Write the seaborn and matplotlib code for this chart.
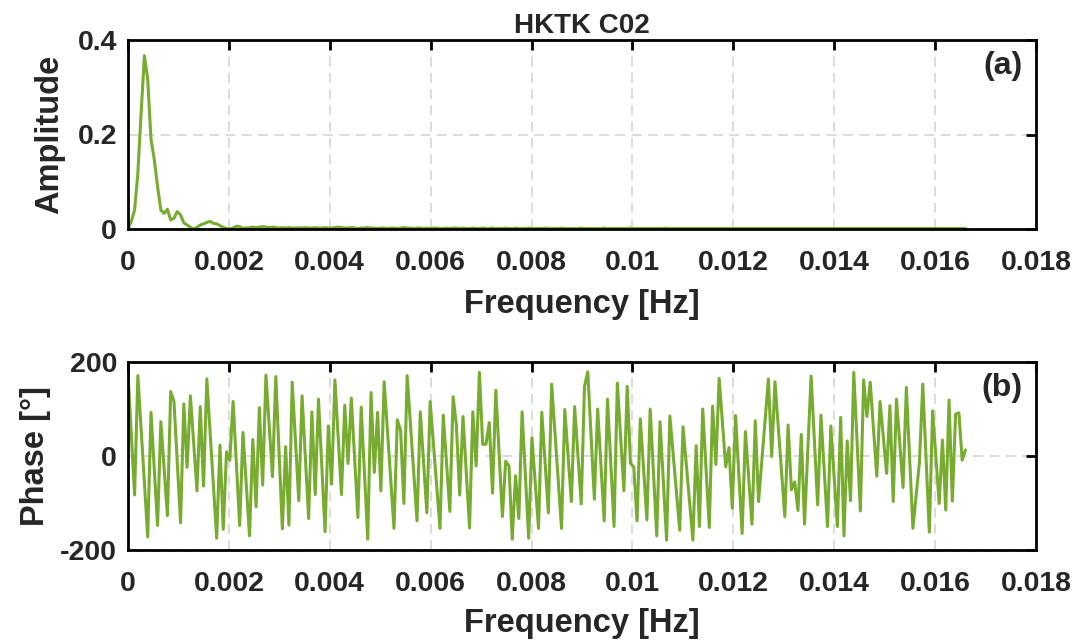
import numpy as np
import pandas as pd
import matplotlib
matplotlib.use("Agg")
import matplotlib.pyplot as plt
import seaborn as sns

# ---------------- data ----------------
SAMPLE_INTERVAL_S = 30.0
N_FFT = 512

amplitude = [
    0.000, 0.016, 0.040, 0.118, 0.246, 0.367, 0.317, 0.190, 0.147, 0.090,
    0.040, 0.033, 0.042, 0.019, 0.023, 0.037, 0.030, 0.013, 0.0085, 0.0035,
    0.000, 0.0035, 0.0085, 0.011, 0.014, 0.016, 0.012, 0.011, 0.007, 0.0035,
    0.001, 0.0005, 0.002, 0.006, 0.005, 0.0015, 0.002, 0.003, 0.004, 0.003,
    0.004, 0.005, 0.004, 0.003, 0.004, 0.003, 0.002, 0.003, 0.002, 0.003,
    0.002, 0.002, 0.003, 0.002, 0.003, 0.002, 0.002, 0.003, 0.002, 0.002,
    0.003, 0.002, 0.002, 0.003, 0.004, 0.003, 0.002, 0.002, 0.003, 0.002,
    0.001, 0.002, 0.002, 0.003, 0.002, 0.002, 0.001, 0.002, 0.002, 0.001,
    0.002, 0.002, 0.001, 0.002, 0.003, 0.002, 0.002, 0.001, 0.002, 0.002,
    0.001, 0.002, 0.001, 0.002, 0.002, 0.001, 0.001, 0.002, 0.001, 0.002,
    0.002, 0.001, 0.002, 0.001, 0.001, 0.002, 0.001, 0.001, 0.002, 0.001,
    0.001, 0.002, 0.001, 0.001, 0.001, 0.002, 0.001, 0.001, 0.002, 0.001,
    0.001, 0.001, 0.002, 0.001, 0.001, 0.001, 0.001, 0.002, 0.001, 0.001,
    0.001, 0.001, 0.002, 0.001, 0.001, 0.001, 0.001, 0.001, 0.002, 0.001,
    0.001, 0.001, 0.001, 0.001, 0.001, 0.002, 0.001, 0.001, 0.001, 0.001,
    0.001, 0.001, 0.001, 0.002, 0.001, 0.001, 0.001, 0.001, 0.001, 0.001,
    0.001, 0.001, 0.001, 0.001, 0.002, 0.001, 0.001, 0.001, 0.001, 0.001,
    0.001, 0.001, 0.001, 0.001, 0.001, 0.001, 0.001, 0.001, 0.001, 0.001,
    0.001, 0.001, 0.001, 0.001, 0.001, 0.001, 0.001, 0.001, 0.001, 0.001,
    0.001, 0.001, 0.001, 0.001, 0.001, 0.001, 0.001, 0.001, 0.001, 0.001,
    0.001, 0.001, 0.001, 0.001, 0.001, 0.001, 0.001, 0.001, 0.001, 0.001,
    0.001, 0.001, 0.001, 0.001, 0.001, 0.001, 0.001, 0.001, 0.001, 0.001,
    0.001, 0.001, 0.001, 0.001, 0.001, 0.001, 0.001, 0.001, 0.001, 0.001,
    0.001, 0.001, 0.001, 0.001, 0.001, 0.001, 0.001, 0.001, 0.001, 0.001,
    0.001, 0.001, 0.001, 0.001, 0.001, 0.001, 0.001, 0.001, 0.001, 0.001,
    0.001, 0.001, 0.001, 0.001, 0.001, 0.001,
]

phase_deg = [
    177, 47, -83, 171, 57, -57, -172, 93, -27, -148,
    73, -27, -127, 137, 116, -13, -142, 111, -24, 128,
    27, -74, 105, -64, 164, 51, -62, -175, 23, -156,
    9, -9, 116, -16, -148, 50, -60, -170, 35, -108,
    103, -62, 172, 64, -44, 169, 7, -155, 20, -147,
    157, 31, -95, 128, -2, -133, 94, -82, 121, -20,
    -161, 64, -60, 162, 40, -82, 108, -16, 123, -4,
    -131, 104, -36, -177, 135, -35, 93, -74, 158, 54,
    -50, -154, 77, 55, -101, 171, 68, -35, -138, 94,
    -14, -121, 116, 26, -64, -154, 87, -16, -118, 126,
    65, -83, 84, -35, -153, 94, -21, 178, 25, 25,
    71, -79, 140, 5, -129, -11, -21, -177, -42, -133,
    94, -40, -175, 39, -58, -154, 93, -14, -121, 153,
    51, -51, -154, 99, 1, -97, 105, 2, -102, 148,
    179, 44, -92, 100, -19, -138, 121, -15, -150, 155,
    40, -74, 148, -16, -23, -138, 79, -28, -136, 100,
    -35, -170, 73, -53, -179, 85, 4, -76, -158, 62,
    -17, -98, -179, 22, -150, 100, -26, -152, 106, -18,
    165, 71, -23, 18, -111, 86, -40, -165, 52, -47,
    -145, 75, -97, -10, 77, 164, -1, 158, 63, -33,
    -129, 66, -72, -55, -116, 46, -145, 12, 170, 33,
    -104, 87, -30, -150, 64, -43, -150, 82, -170, 32,
    -95, 178, 30, -117, 162, 84, 157, 57, -43, 116,
    40, -37, 107, -97, 121, 27, -67, 146, -4, -154,
    -83, -12, 153, -5, -162, 96, -2, -101, 34, -115,
    119, -96, 89, 92, -9, 13,
]

x_ticks = [0, 0.002, 0.004, 0.006, 0.008, 0.010, 0.012, 0.014, 0.016, 0.018]
x_tick_labels = ["0", "0.002", "0.004", "0.006", "0.008", "0.01", "0.012",
                 "0.014", "0.016", "0.018"]
amp_ticks = [0, 0.2, 0.4]
amp_tick_labels = ["0", "0.2", "0.4"]
phase_ticks = [-200, 0, 200]
phase_tick_labels = ["-200", "0", "200"]

title_text = "HKTK C02"
x_label = "Frequency [Hz]"
amp_label = "Amplitude"
phase_label = "Phase [°]"

n = len(phase_deg)
freq = np.arange(n) / (N_FFT * SAMPLE_INTERVAL_S)
df = pd.DataFrame({"freq": freq, "amp": amplitude[:n], "phase": phase_deg})

# ---------------- style ----------------
sns.set_style("white")
plt.rcParams["font.family"] = ["Liberation Sans", "DejaVu Sans"]
plt.rcParams["font.weight"] = "bold"

GREEN = "#77AC30"
TICK_FS = 20.5
LABEL_FS = 23.5

fig = plt.figure(figsize=(10.89, 6.43), dpi=100)
W, H = 1089, 643
ax1 = fig.add_axes([128 / W, 1 - 229 / H, 908 / W, 189 / H])
ax2 = fig.add_axes([128 / W, 1 - 550 / H, 908 / W, 188 / H])

sns.lineplot(data=df, x="freq", y="amp", ax=ax1, color=GREEN, linewidth=2.2,
             estimator=None, sort=False)
sns.lineplot(data=df, x="freq", y="phase", ax=ax2, color=GREEN, linewidth=2.2,
             estimator=None, sort=False)


def style_axes(ax, yticks, ylabels, ylabel, ylim, ylabel_x, xlabel_y, tag):
    ax.set_xlim(0, 0.018)
    ax.set_ylim(*ylim)
    ax.set_xticks(x_ticks)
    ax.set_xticklabels(x_tick_labels, fontsize=TICK_FS, fontweight="bold")
    ax.set_yticks(yticks)
    ax.set_yticklabels(ylabels, fontsize=TICK_FS, fontweight="bold")
    ax.tick_params(direction="in", length=7, width=2, top=True, right=True,
                   color="black")
    ax.tick_params(axis="x", pad=15)
    ax.tick_params(axis="y", pad=8)
    for s in ax.spines.values():
        s.set_visible(True)
        s.set_linewidth(2.0)
        s.set_color("black")
    ax.grid(True, linestyle=(0, (5.5, 3.5)), color="#d9d9d9", linewidth=1.3)
    ax.set_axisbelow(True)
    ax.set_xlabel(x_label, fontsize=LABEL_FS, fontweight="bold", va="top")
    ax.xaxis.set_label_coords(0.5, xlabel_y)
    ax.set_ylabel(ylabel, fontsize=LABEL_FS, fontweight="bold")
    ax.yaxis.set_label_coords(ylabel_x, 0.5)
    ax.text(0.985, 0.94, tag, transform=ax.transAxes, ha="right", va="top",
            fontsize=23, fontweight="bold")


style_axes(ax1, amp_ticks, amp_tick_labels, amp_label, (0, 0.4), -0.069, -0.315, "(a)")
style_axes(ax2, phase_ticks, phase_tick_labels, phase_label, (-200, 200), -0.085, -0.31, "(b)")

ax1.set_title(title_text, fontsize=20, fontweight="bold", pad=5)

fig.savefig("out.png", dpi=100)
